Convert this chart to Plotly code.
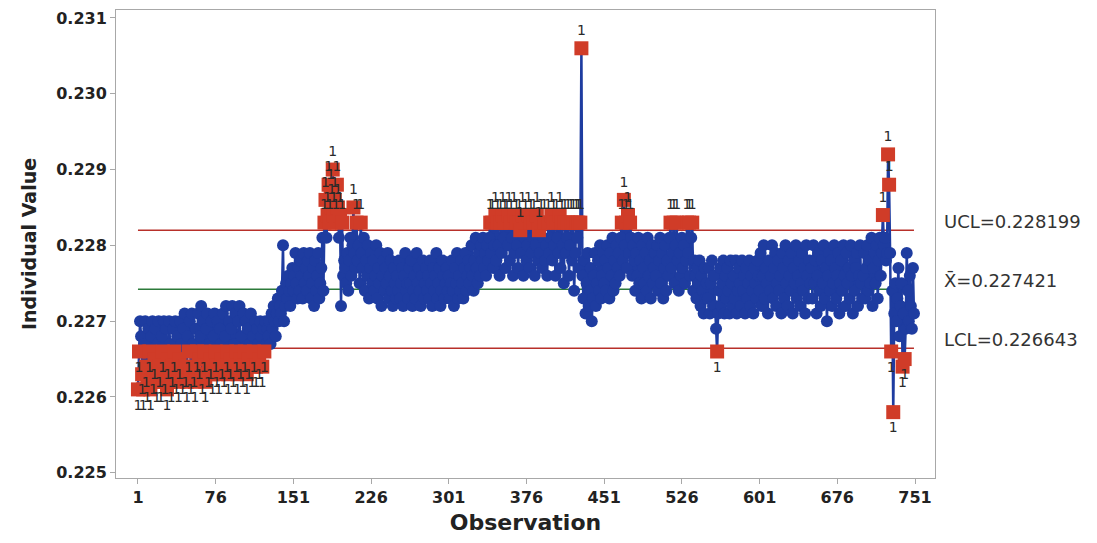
import plotly.graph_objects as go

# Individual values, in units of 0.0001 (2270 -> 0.2270)
obs_001_050 = [2261, 2266, 2270, 2268, 2263, 2261, 2267, 2270, 2264, 2262,
               2269, 2266, 2261, 2268, 2270, 2263, 2265, 2269, 2262, 2267,
               2270, 2264, 2262, 2268, 2266, 2270, 2263, 2269, 2261, 2265,
               2270, 2267, 2262, 2264, 2269, 2266, 2270, 2263, 2268, 2262,
               2265, 2270, 2267, 2263, 2269, 2271, 2264, 2262, 2268, 2266]
obs_051_100 = [2270, 2263, 2271, 2267, 2264, 2262, 2269, 2266, 2271, 2265,
               2268, 2272, 2263, 2270, 2266, 2262, 2269, 2271, 2264, 2267,
               2265, 2270, 2263, 2268, 2271, 2266, 2264, 2270, 2263, 2269,
               2267, 2265, 2271, 2264, 2268, 2272, 2266, 2263, 2270, 2265,
               2269, 2272, 2264, 2267, 2271, 2266, 2263, 2270, 2272, 2265]
obs_101_150 = [2268, 2264, 2271, 2266, 2270, 2263, 2269, 2265, 2267, 2271,
               2264, 2268, 2266, 2270, 2264, 2269, 2267, 2265, 2270, 2268,
               2264, 2269, 2266, 2270, 2267, 2269, 2268, 2270, 2267, 2271,
               2269, 2272, 2270, 2268, 2271, 2273, 2270, 2272, 2271, 2274,
               2280, 2270, 2272, 2275, 2273, 2276, 2274, 2272, 2275, 2277]
obs_151_200 = [2274, 2276, 2279, 2275, 2273, 2277, 2274, 2278, 2276, 2273,
               2279, 2275, 2277, 2274, 2278, 2276, 2279, 2273, 2275, 2277,
               2272, 2278, 2274, 2276, 2279, 2273, 2275, 2277, 2281, 2274,
               2283, 2286, 2281, 2284, 2288, 2283, 2287, 2285, 2290, 2284,
               2286, 2283, 2288, 2285, 2281, 2284, 2272, 2283, 2276, 2278]
obs_201_250 = [2277, 2275, 2279, 2274, 2278, 2281, 2276, 2280, 2285, 2279,
               2277, 2283, 2278, 2280, 2275, 2283, 2279, 2277, 2281, 2274,
               2278, 2276, 2280, 2273, 2277, 2279, 2275, 2278, 2274, 2276,
               2280, 2273, 2277, 2275, 2279, 2272, 2276, 2278, 2274, 2277,
               2275, 2279, 2273, 2276, 2278, 2274, 2272, 2277, 2275, 2273]
obs_251_300 = [2276, 2274, 2278, 2273, 2275, 2277, 2272, 2276, 2279, 2274,
               2275, 2273, 2277, 2275, 2278, 2272, 2274, 2276, 2273, 2279,
               2275, 2277, 2274, 2272, 2276, 2278, 2273, 2275, 2277, 2274,
               2276, 2273, 2278, 2275, 2272, 2277, 2274, 2276, 2279, 2273,
               2275, 2277, 2272, 2274, 2278, 2276, 2273, 2275, 2277, 2274]
obs_301_350 = [2276, 2273, 2275, 2278, 2274, 2272, 2277, 2275, 2279, 2273,
               2276, 2274, 2278, 2275, 2273, 2277, 2279, 2274, 2276, 2278,
               2275, 2277, 2280, 2276, 2274, 2278, 2281, 2277, 2275, 2279,
               2276, 2280, 2278, 2281, 2277, 2279, 2276, 2280, 2278, 2281,
               2283, 2279, 2283, 2277, 2280, 2284, 2278, 2283, 2280, 2276]
obs_351_400 = [2283, 2279, 2284, 2281, 2283, 2277, 2283, 2280, 2284, 2278,
               2283, 2281, 2276, 2284, 2279, 2283, 2280, 2277, 2283, 2282,
               2279, 2284, 2276, 2281, 2283, 2278, 2280, 2284, 2277, 2283,
               2279, 2281, 2283, 2276, 2280, 2284, 2278, 2282, 2279, 2283,
               2277, 2281, 2283, 2278, 2280, 2276, 2283, 2279, 2281, 2284]
obs_401_450 = [2278, 2283, 2280, 2276, 2283, 2281, 2279, 2284, 2277, 2283,
               2280, 2275, 2283, 2279, 2281, 2283, 2276, 2280, 2283, 2278,
               2283, 2274, 2279, 2283, 2281, 2283, 2277, 2283, 2306, 2276,
               2273, 2278, 2271, 2275, 2279, 2272, 2274, 2277, 2270, 2273,
               2276, 2279, 2272, 2275, 2278, 2274, 2280, 2273, 2276, 2279]
obs_451_500 = [2275, 2278, 2274, 2280, 2277, 2273, 2279, 2276, 2281, 2274,
               2278, 2275, 2280, 2277, 2279, 2276, 2281, 2283, 2278, 2286,
               2280, 2283, 2277, 2284, 2279, 2283, 2281, 2276, 2280, 2278,
               2274, 2279, 2276, 2281, 2275, 2278, 2273, 2280, 2277, 2275,
               2279, 2274, 2281, 2276, 2278, 2273, 2280, 2275, 2277, 2279]
obs_501_550 = [2276, 2280, 2274, 2278, 2281, 2275, 2279, 2273, 2277, 2280,
               2274, 2278, 2276, 2281, 2283, 2277, 2279, 2283, 2275, 2280,
               2283, 2278, 2274, 2279, 2276, 2281, 2277, 2280, 2275, 2278,
               2283, 2279, 2283, 2276, 2281, 2283, 2274, 2278, 2276, 2273,
               2277, 2275, 2278, 2272, 2276, 2274, 2271, 2277, 2273, 2275]
obs_551_600 = [2273, 2277, 2271, 2275, 2278, 2272, 2276, 2272, 2269, 2266,
               2271, 2274, 2277, 2272, 2275, 2278, 2271, 2276, 2273, 2277,
               2274, 2271, 2278, 2275, 2272, 2276, 2273, 2278, 2271, 2274,
               2277, 2275, 2272, 2278, 2274, 2276, 2271, 2277, 2273, 2275,
               2278, 2272, 2276, 2274, 2271, 2277, 2275, 2273, 2278, 2276]
obs_601_650 = [2274, 2279, 2272, 2276, 2280, 2273, 2277, 2275, 2271, 2278,
               2274, 2276, 2280, 2273, 2277, 2279, 2272, 2275, 2278, 2274,
               2276, 2271, 2279, 2277, 2273, 2280, 2275, 2272, 2278, 2276,
               2274, 2279, 2271, 2277, 2275, 2280, 2273, 2276, 2278, 2272,
               2275, 2279, 2274, 2277, 2271, 2280, 2276, 2273, 2278, 2275]
obs_651_700 = [2277, 2273, 2280, 2275, 2278, 2271, 2276, 2279, 2274, 2272,
               2278, 2275, 2280, 2273, 2277, 2270, 2276, 2279, 2274, 2278,
               2272, 2275, 2280, 2277, 2273, 2276, 2279, 2271, 2275, 2278,
               2274, 2280, 2276, 2272, 2279, 2275, 2277, 2273, 2280, 2276,
               2271, 2278, 2274, 2277, 2279, 2272, 2276, 2280, 2275, 2273]
obs_701_750 = [2276, 2279, 2273, 2277, 2280, 2274, 2278, 2275, 2281, 2272,
               2277, 2279, 2275, 2280, 2273, 2278, 2281, 2276, 2279, 2284,
               2280, 2281, 2278, 2279, 2292, 2288, 2279, 2266, 2274, 2258,
               2271, 2275, 2270, 2273, 2277, 2268, 2272, 2275, 2264, 2271,
               2265, 2269, 2279, 2274, 2270, 2276, 2272, 2269, 2277, 2271]

UCL = 0.228199
CENTER = 0.227421
LCL = 0.226643

x_tick_vals = [1, 76, 151, 226, 301, 376, 451, 526, 601, 676, 751]
y_tick_vals = [0.225, 0.226, 0.227, 0.228, 0.229, 0.230, 0.231]

units = (obs_001_050 + obs_051_100 + obs_101_150 + obs_151_200 + obs_201_250 +
         obs_251_300 + obs_301_350 + obs_351_400 + obs_401_450 + obs_451_500 +
         obs_501_550 + obs_551_600 + obs_601_650 + obs_651_700 + obs_701_750)
assert len(units) == 750, len(units)
values = [u / 10000 for u in units]
obs = list(range(1, len(values) + 1))

BLUE = "#1e3ca0"
RED = "#d03c28"
FONT = "DejaVu Sans"

fig = go.Figure()

# control lines (beneath the data)
for lvl, col in [(UCL, "#b8302a"), (CENTER, "#2c7a3a"), (LCL, "#b8302a")]:
    fig.add_trace(go.Scatter(x=[obs[0], obs[-1]], y=[lvl, lvl], mode="lines",
                             line=dict(color=col, width=1.6), hoverinfo="skip",
                             showlegend=False))

# all observations
fig.add_trace(go.Scatter(x=obs, y=values, mode="lines+markers",
                         line=dict(color=BLUE, width=2.5),
                         marker=dict(symbol="circle", size=12, color=BLUE),
                         showlegend=False))

# out-of-control points (test 1)
ox, oy, pos = [], [], []
for xi, yi in zip(obs, values):
    if yi > UCL:
        ox.append(xi); oy.append(yi); pos.append("top center")
    elif yi < LCL:
        ox.append(xi); oy.append(yi); pos.append("bottom center")
fig.add_trace(go.Scatter(x=ox, y=oy, mode="markers+text",
                         marker=dict(symbol="square", size=14, color=RED),
                         text=["1"] * len(ox), textposition=pos,
                         textfont=dict(family=FONT, size=14, color="#2a2a2a"),
                         showlegend=False))

for lbl, lvl in [("UCL=0.228199", UCL), ("X\u0304=0.227421", CENTER), ("LCL=0.226643", LCL)]:
    fig.add_annotation(xref="paper", x=1.0, xshift=7, xanchor="left",
                       yref="y", y=lvl, yshift=9, yanchor="middle",
                       text=lbl, showarrow=False,
                       font=dict(family=FONT, size=18, color="#333333"))

axis_common = dict(showline=True, linecolor="#a8a8a8", linewidth=1, mirror=True,
                   ticks="outside", ticklen=5, tickcolor="#a8a8a8",
                   showgrid=False, zeroline=False)

fig.update_xaxes(range=[-20.2, 770.3], tickvals=x_tick_vals,
                 tickfont=dict(family=FONT, size=16, color="#222222", weight="bold"),
                 title=dict(text="Observation", standoff=8,
                            font=dict(family=FONT, size=22, color="#222222", weight="bold")),
                 **axis_common)
fig.update_yaxes(range=[0.224931, 0.231105], tickvals=y_tick_vals,
                 ticktext=[f"{v:.3f}" for v in y_tick_vals],
                 tickfont=dict(family=FONT, size=16, color="#222222", weight="bold"),
                 title=dict(text="Individual Value", standoff=14,
                            font=dict(family=FONT, size=19, color="#222222", weight="bold")),
                 **axis_common)

# page body has an 8px margin, so the figure is 8px smaller than the window
fig.update_layout(width=1089, height=535,
                  margin=dict(l=108, r=162, t=2, b=65),
                  paper_bgcolor="white", plot_bgcolor="white",
                  showlegend=False)

fig.write_html("out.html")
